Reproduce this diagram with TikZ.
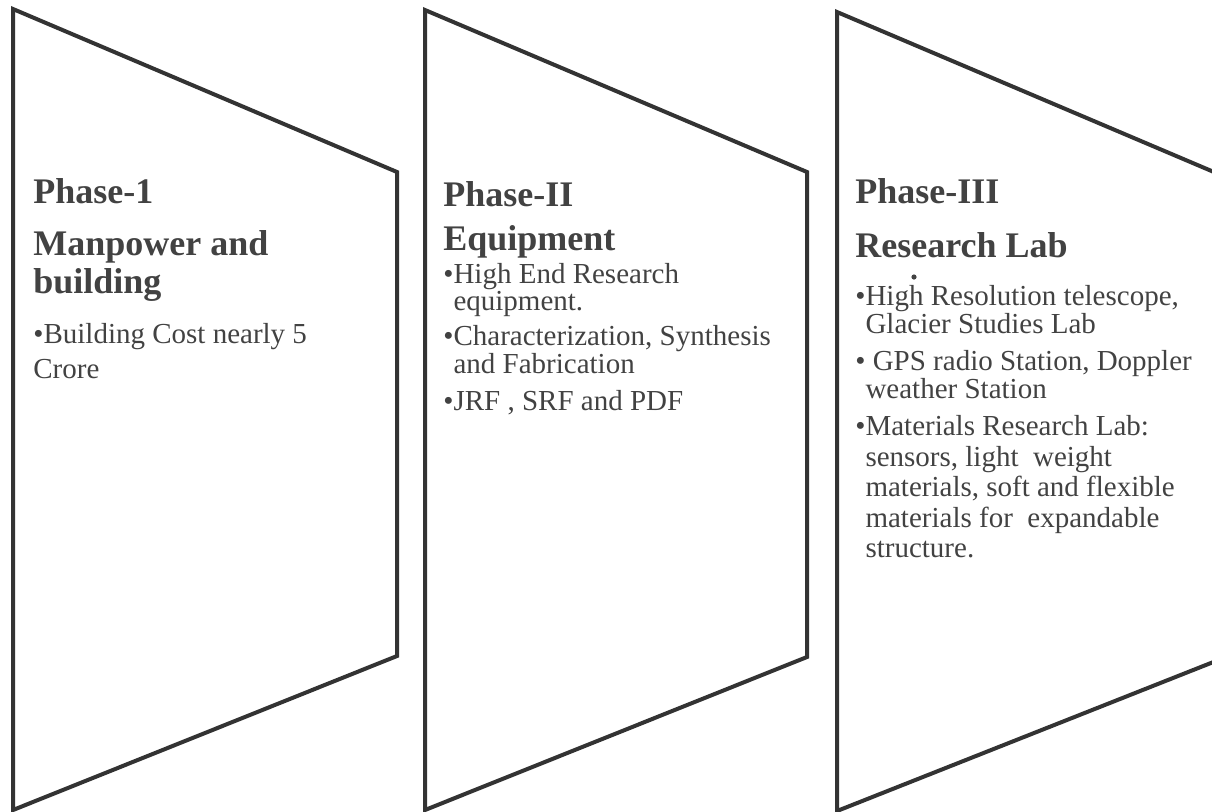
\documentclass[tikz,border=0pt]{standalone}
\usepackage{fontspec}
\setmainfont{Liberation Serif}
\definecolor{mgray}{HTML}{333333}
\definecolor{tgray}{HTML}{424242}
\tikzset{phase/.style = {draw=mgray, line width=2pt, line join=miter},
         head/.style = {anchor=base west, inner sep=0pt, text=tgray,
                        font=\bfseries\fontsize{18}{19}\selectfont},
         item/.style = {anchor=north west, inner sep=0pt, align=left, text=tgray}}
\newcommand{\ind}{\phantom{•}}

\begin{document}
\begin{tikzpicture}[x=0.5pt, y=-0.5pt]
      \useasboundingbox (0,0) rectangle (1212,811);
      % the three phase panels
      \draw [phase] (13,9) -- (397,172) -- (397,656) -- (13,810) -- cycle;
      \draw [phase] (425,10) -- (807,172) -- (807,657) -- (425,810) -- cycle;
      \draw [phase] (837,12) -- (1221,175) -- (1221,659) -- (837,811) -- cycle;
      % phase 1
      \node [head] (ph1) at (33,203) {Phase-1};
      \node [head, anchor=north west, align=left] (ph1t) at (33,230) {Manpower and\\building};
      \node [item, font=\fontsize{14.5}{17.5}\selectfont] (b1) at (33,323) {•Building Cost nearly 5\\Crore};
      % phase 2
      \node [head] (ph2) at (443,206) {Phase-II};
      \node [head] (ph2t) at (443,250) {Equipment};
      \node [item, font=\fontsize{14.5}{13.5}\selectfont] (e1) at (443,263) {•High End Research\\\ind equipment.};
      \node [item, font=\fontsize{14.5}{14}\selectfont] (e2) at (443,325) {•Characterization, Synthesis\\\ind and Fabrication};
      \node [item, font=\fontsize{14.5}{14}\selectfont] (e3) at (443,390) {•JRF , SRF and PDF};
      % phase 3
      \node [head] (ph3) at (855,203) {Phase-III};
      \node [head] (ph3t) at (855,257) {Research Lab};
      \node [item, font=\fontsize{14.5}{14}\selectfont] (r1) at (855,285) {•High Resolution telescope,\\\ind Glacier Studies Lab};
      \node [item, font=\fontsize{14.5}{14}\selectfont] (r2) at (855,350) {• GPS radio Station, Doppler\\\ind weather Station};
      \node [item, font=\fontsize{14.5}{15.25}\selectfont] (r3) at (855,415) {•Materials Research Lab:\\\ind sensors, light\ \ weight\\\ind materials, soft and flexible\\\ind materials for\ \ expandable\\\ind structure.};
      \fill [tgray] (914,277) circle (1.3pt);
    \end{tikzpicture}
\end{document}
